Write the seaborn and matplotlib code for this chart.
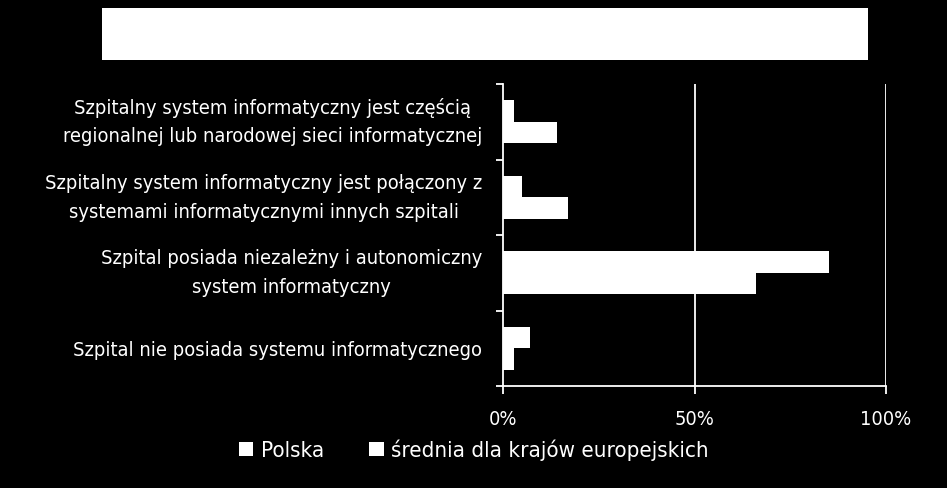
import matplotlib
matplotlib.use("Agg")
import matplotlib.pyplot as plt
import matplotlib.patches as mpatches
import matplotlib.transforms as mtransforms
from matplotlib.ticker import FixedLocator, PercentFormatter
import seaborn as sns
import pandas as pd

categories = [
    "Szpitalny system informatyczny jest częścią\nregionalnej lub narodowej sieci informatycznej",
    "Szpitalny system informatyczny jest połączony z\nsystemami informatycznymi innych szpitali",
    "Szpital posiada niezależny i autonomiczny\nsystem informatyczny",
    "Szpital nie posiada systemu informatycznego",
]
series_names = ["Polska", "średnia dla krajów europejskich"]
polska = [0.03, 0.05, 0.85, 0.07]
srednia = [0.14, 0.17, 0.66, 0.03]
x_ticks = [0, 0.5, 1.0]

df = pd.DataFrame({
    "kategoria": categories * 2,
    "seria": [series_names[0]] * 4 + [series_names[1]] * 4,
    "wartosc": polska + srednia,
})

sns.set_theme(style="white")
plt.rcParams["font.family"] = ["DejaVu Sans"]
plt.rcParams["font.stretch"] = "condensed"

W, H = 947, 488
fig = plt.figure(figsize=(W / 100, H / 100), dpi=100, facecolor="black")
ax = fig.add_axes([503 / W, 1 - 386 / H, 383 / W, 302 / H])
ax.set_facecolor("black")

sns.barplot(data=df, y="kategoria", x="wartosc", hue="seria", order=categories,
            hue_order=series_names, palette=["white", "white"], width=0.57,
            orient="h", saturation=1, edgecolor="none", linewidth=0, ax=ax, legend=False)

ax.set_xlim(0, 1)
ax.set_ylim(3.5, -0.5)
ax.set_xlabel("")
ax.set_ylabel("")
ax.xaxis.set_major_locator(FixedLocator(x_ticks))
ax.xaxis.set_major_formatter(PercentFormatter(1.0, decimals=0))
for v in x_ticks[1:]:
    ax.axvline(v, color="white", lw=1.3, zorder=0)

for s in ["top", "right"]:
    ax.spines[s].set_visible(False)
for s in ["left", "bottom"]:
    ax.spines[s].set_color("white")
    ax.spines[s].set_linewidth(1.3)

ax.tick_params(axis="x", colors="white", direction="out", length=6, width=1.3,
               labelsize=14.4, pad=11, bottom=True)
ax.set_yticks([-0.5, 0.5, 1.5, 2.5, 3.5], minor=True)
ax.tick_params(axis="y", which="minor", left=True, length=5, width=1.3, color="white")
ax.tick_params(axis="y", which="major", left=False, length=0, pad=15,
               labelsize=14.4, labelcolor="white")
shift_up = mtransforms.ScaledTranslation(0, 6.5 / 100, fig.dpi_scale_trans)
for t in ax.get_yticklabels():
    t.set_multialignment("center")
    t.set_linespacing(1.65)
    if "\n" in t.get_text():
        t.set_transform(t.get_transform() + shift_up)
for t in ax.get_xticklabels():
    t.set_color("white")

# title box (empty white rectangle)
fig.patches.append(mpatches.Rectangle((102 / W, 1 - 60 / H), 766 / W, 52 / H,
                                      transform=fig.transFigure, facecolor="white",
                                      edgecolor="none"))

handles = [mpatches.Patch(facecolor="white", edgecolor="none", label=n) for n in series_names]
leg = fig.legend(handles=handles, loc="center left", bbox_to_anchor=(219 / W, 1 - 450 / H),
                 ncol=2, frameon=False, handlelength=0.65, handleheight=0.65,
                 handletextpad=0.32, columnspacing=2.05, fontsize=16)
for t in leg.get_texts():
    t.set_color("white")

fig.savefig("out.png", dpi=100, facecolor="black")
